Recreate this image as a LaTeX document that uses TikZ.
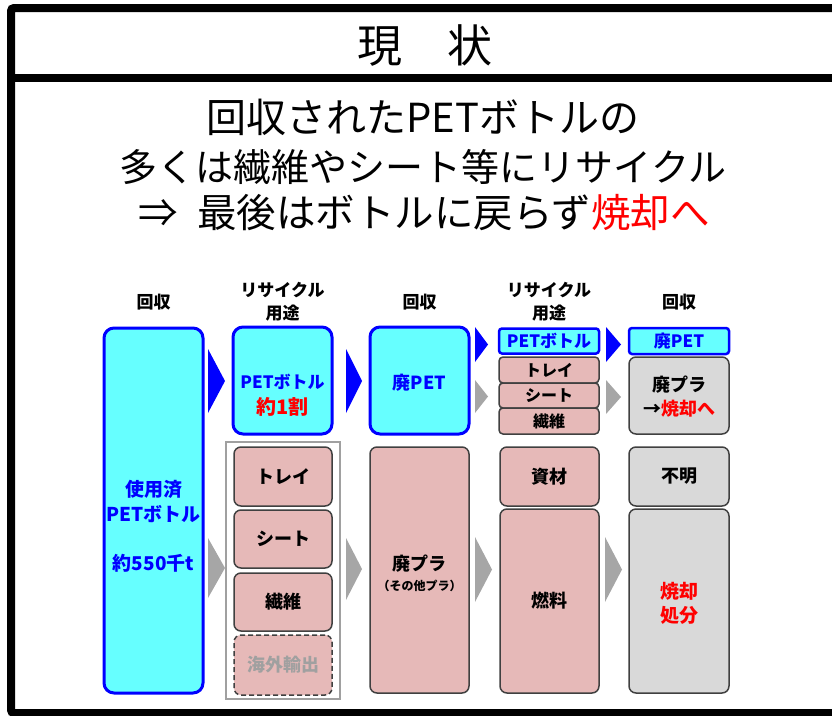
\documentclass[tikz,border=0pt]{standalone}
\usepackage{fontspec}
\setmainfont{Noto Sans CJK JP}
\usetikzlibrary{calc}
\definecolor{cyanfill}{RGB}{102,255,255}
\definecolor{bluebd}{RGB}{0,0,255}
\definecolor{pinkfill}{RGB}{230,185,184}
\definecolor{grayfill}{RGB}{217,217,217}
\definecolor{boxbd}{RGB}{64,64,64}
\definecolor{arrowgray}{RGB}{166,166,166}
\definecolor{bracketgray}{RGB}{160,160,160}
\definecolor{redtxt}{RGB}{255,0,0}
\definecolor{fadetxt}{RGB}{160,160,160}
\begin{document}
\begin{tikzpicture}[x=1pt,y=-1pt,
  cyanbig/.style={draw=bluebd, line width=3pt, fill=cyanfill, rounded corners=10pt, inner sep=0pt},
  cyansmall/.style={draw=bluebd, line width=2.5pt, fill=cyanfill, rounded corners=3pt, inner sep=0pt},
  pinkbox/.style={draw=boxbd, line width=1.5pt, fill=pinkfill, rounded corners=7pt, inner sep=0pt},
  graybox/.style={draw=boxbd, line width=1.5pt, fill=grayfill, rounded corners=7pt, inner sep=0pt},
  btxt/.style={font=\bfseries\fontsize{18}{23}\selectfont, align=center, inner sep=0pt},
  stxt/.style={font=\bfseries\fontsize{16}{20}\selectfont, align=center, inner sep=0pt},
  hdr/.style={font=\bfseries\fontsize{17}{23}\selectfont, align=center, inner sep=0pt},
  msg/.style={font=\fontsize{39}{44}\selectfont, inner sep=0pt},
  bluechev/.style={fill=bluebd},
  graychev/.style={fill=arrowgray}
]
\useasboundingbox (0,0) rectangle (832,715);
% frame
\draw[line width=8pt, rounded corners=3pt] (845,8) -- (11,8) -- (11,713) -- (845,713);
\draw[line width=8pt] (11,77.5) -- (845,77.5);
% title and message
\node[font=\fontsize{45}{50}\selectfont, inner sep=0pt] (title) at (425,46) {現　状};
\node[msg, font=\fontsize{40}{44}\selectfont] (msg1) at (423,117) {回収されたPETボトルの};
\node[msg, font=\fontsize{38}{44}\selectfont] (msg2) at (423,167) {多くは繊維やシート等にリサイクル};
\node[msg, font=\fontsize{39.5}{44}\selectfont] (msg3) at (424,213) {⇒\hspace{0.5em}最後はボトルに戻らず\textcolor{redtxt}{焼却へ}};
% headers
\node[hdr] (h1) at (153.5,302) {回収};
\node[hdr] (h2) at (282.5,301.5) {リサイクル\\用途};
\node[hdr] (h3) at (419.5,302) {回収};
\node[hdr] (h4) at (549,301.5) {リサイクル\\用途};
\node[hdr] (h5) at (679,302) {回収};
% column 1
\node[cyanbig, minimum width=99pt, minimum height=365pt] (A) at (153.5,510.5) {};
\node[btxt, font=\bfseries\fontsize{19}{25}\selectfont, text=bluebd] (Atxt) at ($(A.center)+(0,15.5)$) {使用済\\PETボトル\\[24pt]約550千t};
% column 2
\node[cyanbig, minimum width=99pt, minimum height=107pt] (B) at (282.5,380.5) {};
\node[btxt, font=\bfseries\fontsize{17}{26}\selectfont, text=bluebd] (Btxt) at ($(B.center)+(0,14.5)$) {PETボトル\\\textcolor{redtxt}{\fontsize{20}{26}\selectfont 約1割}};
\node[draw=bracketgray, line width=2pt, minimum width=114pt, minimum height=257pt, inner sep=0pt] (grp) at (283,570.5) {};
\node[pinkbox, minimum width=98pt, minimum height=59pt] (C1) at (283,476.5) {};
\node[btxt] at (C1.center) {トレイ};
\node[pinkbox, minimum width=98pt, minimum height=58pt] (C2) at (283,539) {};
\node[btxt] at (C2.center) {シート};
\node[pinkbox, minimum width=98pt, minimum height=58pt] (C3) at (283,602) {};
\node[btxt] at (C3.center) {繊維};
\node[pinkbox, dash pattern=on 5pt off 3pt, minimum width=98pt, minimum height=60pt] (C4) at (283,665) {};
\node[btxt, text=fadetxt] at (C4.center) {海外輸出};
% column 3
\node[cyanbig, minimum width=99pt, minimum height=107pt] (D) at (419.5,380.5) {};
\node[btxt, text=bluebd] at ($(D.center)+(0,2)$) {廃PET};
\node[pinkbox, minimum width=99pt, minimum height=246pt] (E) at (419.5,570) {};
\node[btxt] (Etxt) at ($(E.center)+(0,3)$) {廃プラ\\[-3pt]{\fontsize{12}{14}\selectfont （その他プラ）}};
% column 4
\node[cyansmall, minimum width=100pt, minimum height=25pt] (F1) at (549,341) {};
\node[stxt, font=\bfseries\fontsize{17}{20}\selectfont, text=bluebd] at (F1.center) {PETボトル};
\node[pinkbox, rounded corners=4pt, minimum width=100pt, minimum height=26pt] (F2) at (549,370) {};
\node[stxt] at (F2.center) {トレイ};
\node[pinkbox, rounded corners=4pt, minimum width=100pt, minimum height=25pt] (F3) at (549,395.5) {};
\node[stxt] at (F3.center) {シート};
\node[pinkbox, rounded corners=4pt, minimum width=100pt, minimum height=26pt] (F4) at (549,421) {};
\node[stxt] at (F4.center) {繊維};
\node[pinkbox, minimum width=99pt, minimum height=59pt] (G1) at (549.5,476.5) {};
\node[btxt] at (G1.center) {資材};
\node[pinkbox, minimum width=99pt, minimum height=184pt] (G2) at (549.5,601) {};
\node[btxt] at (G2.center) {燃料};
% column 5
\node[cyansmall, minimum width=100pt, minimum height=26pt] (H1) at (679,341) {};
\node[stxt, font=\bfseries\fontsize{17}{20}\selectfont, text=bluebd] at (H1.center) {廃PET};
\node[graybox, minimum width=100pt, minimum height=77pt] (H2) at (679,395.5) {};
\node[btxt, font=\bfseries\fontsize{18}{24}\selectfont] at ($(H2.center)+(0,1)$) {廃プラ\\→\textcolor{redtxt}{焼却へ}};
\node[graybox, minimum width=100pt, minimum height=59pt] (H3) at (679,476.5) {};
\node[btxt] at (H3.center) {不明};
\node[graybox, minimum width=100pt, minimum height=184pt] (H4) at (679,601) {};
\node[btxt, font=\bfseries\fontsize{19}{24}\selectfont, text=redtxt] at ($(H4.center)+(0,2)$) {焼却\\処分};
% chevron arrows
\fill[bluechev] (208,349) -- (225,381) -- (208,413) -- cycle;
\fill[graychev] (208,538) -- (225,568) -- (208,598) -- cycle;
\fill[bluechev] (346,349) -- (362,381) -- (346,413) -- cycle;
\fill[graychev] (346,538) -- (362,569) -- (346,600) -- cycle;
\fill[bluechev] (475,327) -- (488,344.5) -- (475,362) -- cycle;
\fill[graychev] (475,380) -- (488,396.5) -- (475,413) -- cycle;
\fill[graychev] (475,537) -- (492,569.5) -- (475,602) -- cycle;
\fill[bluechev] (606,327) -- (621,344.5) -- (606,362) -- cycle;
\fill[graychev] (606,380) -- (621,397) -- (606,414) -- cycle;
\fill[graychev] (605,537) -- (622,569.5) -- (605,602) -- cycle;
\end{tikzpicture}
\end{document}
